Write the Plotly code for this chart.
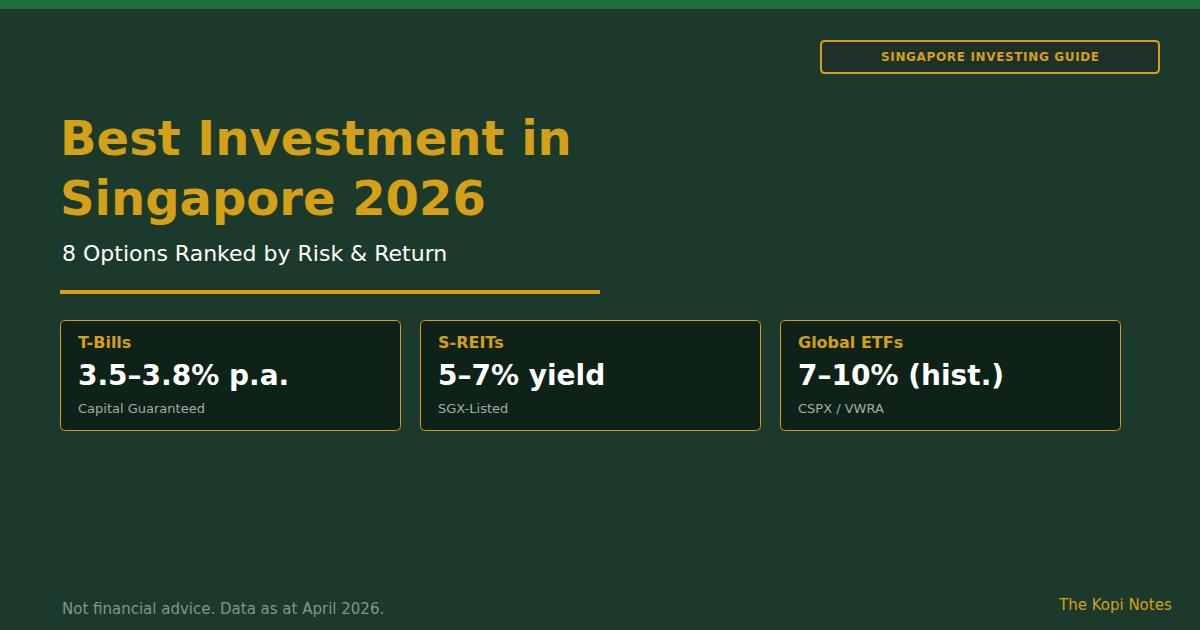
import plotly.graph_objects as go

# ---- content ----
badge_text = "SINGAPORE INVESTING GUIDE"
title_lines = ["Best Investment in", "Singapore 2026"]
subtitle = "8 Options Ranked by Risk & Return"
card_titles = ["T-Bills", "S-REITs", "Global ETFs"]
card_values = ["3.5–3.8% p.a.", "5–7% yield", "7–10% (hist.)"]
card_notes = ["Capital Guaranteed", "SGX-Listed", "CSPX / VWRA"]
footer_left = "Not financial advice. Data as at April 2026."
footer_right = "The Kopi Notes"

W, H = 1200, 630
BG = "#1b3a2b"
GOLD = "#d4a017"
FONT = "DejaVu Sans"


def rrect(x0, y0, x1, y1, r):
    return (f"M {x0+r},{y0} L {x1-r},{y0} Q {x1},{y0} {x1},{y0+r} "
            f"L {x1},{y1-r} Q {x1},{y1} {x1-r},{y1} L {x0+r},{y1} "
            f"Q {x0},{y1} {x0},{y1-r} L {x0},{y0+r} Q {x0},{y0} {x0+r},{y0} Z")


fig = go.Figure()
shapes = []
ann = []

# top bar
shapes.append(dict(type="rect", x0=0, x1=W, y0=0, y1=9, fillcolor="#1f6e40",
                   line=dict(width=0), layer="below"))
# badge
shapes.append(dict(type="path", path=rrect(821, 41, 1159, 73, 4), fillcolor="#1f3028",
                   line=dict(color=GOLD, width=2)))
ann.append(dict(x=990, y=57,
                text=f"<span style=\"letter-spacing:0.65px\"><b>{badge_text}</b></span>",
                xanchor="center", yanchor="middle",
                font=dict(family=FONT, size=12, color=GOLD)))

# title
for i, line in enumerate(title_lines):
    ann.append(dict(x=58, y=138 + 60 * i, text=f"<b>{line}</b>", xanchor="left", yanchor="middle",
                    font=dict(family=FONT, size=48, color=GOLD)))
ann.append(dict(x=60, y=253, text=subtitle, xanchor="left", yanchor="middle",
                font=dict(family=FONT, size=22, color="#ffffff")))
# gold rule
shapes.append(dict(type="rect", x0=60, x1=600, y0=290, y1=294, fillcolor=GOLD,
                   line=dict(width=0)))

# cards
for i, (t, v, n) in enumerate(zip(card_titles, card_values, card_notes)):
    x0 = 60.5 + 360 * i
    shapes.append(dict(type="path", path=rrect(x0, 320.5, x0 + 340, 430.5, 5),
                       fillcolor="#0e2218", line=dict(color=GOLD, width=1)))
    ann.append(dict(x=x0 + 15, y=342, text=f"<b>{t}</b>", xanchor="left", yanchor="middle",
                    font=dict(family=FONT, size=16, color=GOLD)))
    ann.append(dict(x=x0 + 15, y=375, text=f"<b>{v}</b>", xanchor="left", yanchor="middle",
                    font=dict(family=FONT, size=28, color="#ffffff")))
    ann.append(dict(x=x0 + 15, y=408, text=n, xanchor="left", yanchor="middle",
                    font=dict(family=FONT, size=13, color="#a3aca5")))

# footer
ann.append(dict(x=60, y=609, text=footer_left, xanchor="left", yanchor="middle",
                font=dict(family=FONT, size=15, color="#86948a")))
ann.append(dict(x=1174, y=605, text=footer_right, xanchor="right", yanchor="middle",
                font=dict(family=FONT, size=15, color=GOLD)))

for a in ann:
    a.update(xref="x", yref="y", showarrow=False)
for s in shapes:
    s.update(xref="x", yref="y")

fig.update_layout(
    width=W, height=H, margin=dict(l=0, r=0, t=0, b=0),
    paper_bgcolor=BG, plot_bgcolor=BG,
    xaxis=dict(range=[0, W], visible=False, fixedrange=True),
    yaxis=dict(range=[H, 0], visible=False, fixedrange=True),
    shapes=shapes, annotations=ann, showlegend=False,
)
fig.write_html(
    "out.html",
    config={"displayModeBar": False},
    post_script="document.body.style.margin='0';document.body.style.overflow='hidden';",
)
